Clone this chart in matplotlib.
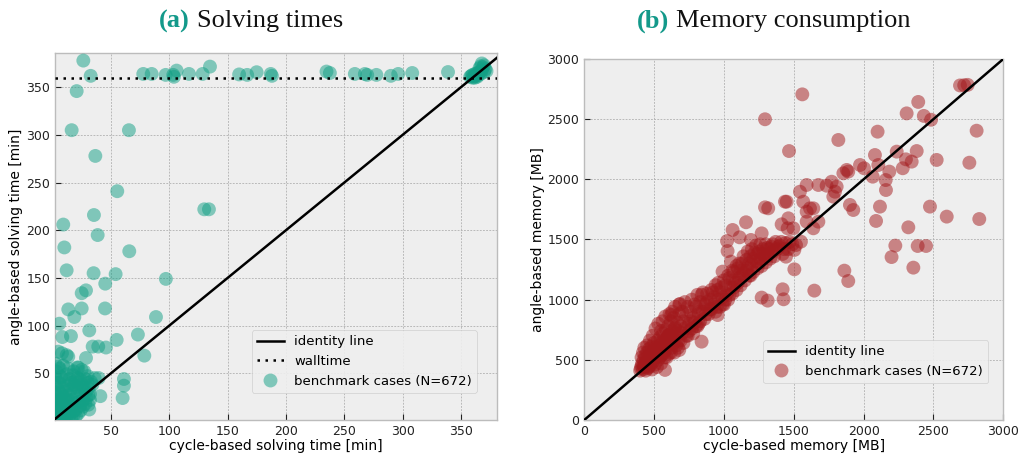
import numpy as np
import matplotlib
matplotlib.use("Agg")
import matplotlib.pyplot as plt
from matplotlib.offsetbox import TextArea, HPacker, AnchoredOffsetbox
from matplotlib.lines import Line2D

plt.style.use("bmh")
plt.rcParams["font.family"] = ["DejaVu Sans"]

# ---------------- data: solving times [min] (cycle-based, angle-based) ----------------
WALLTIME = 360

solving_spread = [
    (26.3, 378), (32.6, 362), (20.6, 346), (16.3, 305), (65.4, 305), (36.6, 278),
    (55.4, 241), (35.4, 216), (9.1, 206), (38.6, 195), (10, 182), (65.7, 178),
    (12, 158), (35.1, 155), (54, 154), (97.1, 149), (45.1, 144), (28.6, 137),
    (24.9, 134), (13.4, 117), (24.9, 118), (44.9, 118), (18.6, 109), (88.6, 109),
    (5.7, 102), (31.4, 95), (8.3, 88), (15.7, 89), (73.1, 90.6), (54.9, 85),
    (34.3, 78), (39.1, 78), (45.7, 77), (78.6, 68.5), (8, 71), (12, 69),
    (13.4, 67.4), (4.8, 72.7), (28.6, 66), (61.1, 44), (61.1, 37), (39.4, 45),
    (40.9, 26), (60, 24), (32, 22), (31.4, 12), (30.6, 17), (30.5, 27),
    (17.6, 9.7), (4.8, 57), (13.4, 55), (22, 56), (24.8, 53.5), (130, 222),
    (134, 222),
]

solving_walltime = [
    (77.7, 364), (84.9, 364), (96.9, 363), (103.4, 363), (106.3, 367.5), (104, 361),
    (116.9, 364), (128.6, 364), (134.9, 371.7), (159.9, 363.5), (166.8, 363),
    (174.9, 365.8), (187, 364), (188, 362), (234.8, 366.5), (237.7, 365),
    (259.1, 364), (267.7, 364), (269.7, 363), (277.6, 363), (290, 362),
    (296.3, 364), (308.3, 365), (339, 366),
    (358, 361), (359, 362), (360, 363), (361, 361), (362, 364), (363, 362),
    (364, 365), (365, 363), (366, 366), (367, 364), (368, 368), (369, 371),
    (370, 373), (368, 375), (366, 370), (371, 369), (372, 367), (360, 360),
    (362, 360), (364, 361), (367, 372), (370, 366),
]

solving_dense = [
    (1.5, 2), (2, 5), (2.5, 9), (3, 3), (3, 14), (3.5, 20), (4, 7), (4, 26),
    (4.5, 33), (5, 4), (5, 11), (5, 17), (5.5, 40), (6, 2), (6, 23), (6.5, 29),
    (7, 6), (7, 13), (7.5, 46), (8, 9), (8, 19), (8.5, 35), (9, 3), (9, 25),
    (9.5, 15), (10, 42), (10.5, 8), (11, 31), (11.5, 21), (12, 5), (12, 49),
    (12.5, 12), (13, 37), (13.5, 27), (14, 17), (14.5, 44), (15, 10), (15.5, 33),
    (16, 40), (16.5, 22), (17, 14), (17.5, 48), (18, 30), (18.5, 38), (19, 19),
    (19.5, 42), (20, 12), (20.5, 35), (21, 26), (21.5, 45), (22, 40), (22.5, 20),
    (23, 33), (23.5, 16), (24, 43), (25, 28), (25.5, 38), (26, 22), (27, 35),
    (28, 44), (28.5, 30), (29, 24), (30, 40), (31, 34), (32, 28), (33, 41),
    (2, 30), (2, 46), (3, 52), (1.5, 38), (2.5, 60), (6, 55), (9, 58), (1.5, 12),
    (2, 18), (4, 1.5), (7, 2), (10, 2.5), (14, 4), (18, 6), (22, 8), (26, 15),
    (16, 3), (20, 5), (24, 11), (28, 18), (11, 15), (8, 28), (13, 22), (4, 40),
    (6, 47), (18, 52), (21, 56), (27, 52), (30, 47), (34, 38), (36, 45),
]

# ---------------- data: memory consumption [MB] (cycle-based, angle-based) ----------------
memory_band = [
    (400, 410), (405, 430), (410, 450), (415, 470), (420, 420), (425, 500),
    (430, 440), (435, 530), (440, 410), (445, 470), (450, 560), (455, 430),
    (460, 500), (465, 590), (470, 450), (475, 530), (480, 610), (485, 420),
    (490, 480), (495, 560), (500, 640), (505, 460), (510, 520), (515, 590),
    (520, 440), (525, 660), (530, 500), (535, 560), (540, 620), (545, 690),
    (550, 470), (555, 540), (560, 600), (565, 720), (570, 650), (575, 520),
    (580, 580), (585, 750), (590, 680), (595, 620), (600, 780), (605, 550),
    (610, 710), (615, 650), (620, 820), (625, 600), (630, 740), (635, 680),
    (640, 850), (645, 560), (650, 770), (655, 700), (660, 620), (665, 810),
    (670, 740), (675, 660), (680, 880), (690, 780), (700, 720), (710, 820),
    (720, 760), (730, 870), (740, 700), (750, 800), (760, 900), (770, 760),
    (780, 850), (790, 810), (800, 940), (810, 780), (820, 880), (830, 820),
    (840, 1040), (850, 900), (860, 840), (870, 960), (880, 1050), (890, 880),
    (900, 1000), (910, 920), (920, 1060), (930, 960), (940, 900), (950, 1080),
    (960, 1000), (970, 940), (980, 1100), (990, 1020), (1000, 960), (1010, 1120),
    (1020, 1050), (1030, 1000), (1040, 1180), (1050, 1100), (1060, 1050),
    (1070, 1230), (1080, 1140), (1090, 1080), (1100, 1260), (1110, 1180),
    (1120, 1120), (1130, 1300), (1140, 1220), (1150, 1160), (1160, 1330),
    (1170, 1260), (1180, 1200), (1190, 1360), (1200, 1290), (1210, 1230),
    (1220, 1390), (1230, 1320), (1240, 1260), (1250, 1400), (1260, 1340),
    (1270, 1280), (1280, 1420), (1290, 1360), (1300, 1310), (1310, 1430),
    (1320, 1380), (1330, 1340), (1340, 1440), (1350, 1400), (1360, 1360),
    (1380, 1420), (1400, 1450), (1420, 1380), (1440, 1470), (1460, 1420),
    # wider part of the band
    (410, 520), (420, 560), (430, 600), (440, 480), (450, 620), (460, 440),
    (470, 660), (480, 500), (490, 700), (500, 540), (510, 760), (520, 580),
    (530, 800), (540, 520), (550, 740), (560, 820), (570, 560), (580, 860),
    (590, 520), (600, 700), (610, 880), (620, 560), (630, 900), (640, 640),
    (650, 940), (660, 720), (670, 600), (680, 960), (690, 660), (700, 900),
    (710, 640), (720, 980), (730, 700), (740, 940), (750, 740), (760, 820),
    (770, 1000), (780, 720), (790, 960), (800, 780), (810, 1040), (820, 800),
    (830, 980), (850, 1060), (860, 960), (870, 880), (880, 980), (900, 920),
    (910, 1080), (930, 1020), (940, 1120), (950, 940), (960, 1140), (970, 1060),
    (990, 960), (1000, 1160), (1010, 1000), (1030, 1200), (1040, 1040),
    (1060, 1160), (1070, 1100), (1090, 1280), (1100, 1140), (1110, 1300),
    (1130, 1200), (1140, 1360), (1160, 1240), (1170, 1400), (1180, 1300),
    (1200, 1420), (1210, 1340), (1230, 1450), (1240, 1380), (1260, 1460),
    (1280, 1380), (1300, 1460), (1320, 1420), (1350, 1460), (1370, 1480),
    (1390, 1440), (1410, 1480), (1430, 1420), (1470, 1480), (1490, 1460),
    (1060, 1240), (1120, 1240), (1190, 1200), (1250, 1300), (1310, 1360),
    (425, 450), (445, 520), (465, 480), (485, 540), (505, 600), (525, 540),
    (545, 600), (565, 660), (585, 640), (605, 700), (625, 680), (645, 760),
]

memory_spread = [
    (1561, 2706), (1294, 2499), (1466, 2235), (1819, 2327), (2100, 2396),
    (2391, 2643), (2308, 2548), (2431, 2527), (2483, 2495), (2809, 2404),
    (2690, 2780), (2720, 2782), (2745, 2785), (2081, 2202), (2105, 2119),
    (2237, 2230), (2380, 2235), (2303, 2166), (2344, 2147), (2280, 2092),
    (2184, 2064), (2158, 1994), (2160, 1911), (2065, 2022), (2523, 2161),
    (2757, 2138), (1974, 2119), (2003, 2092), (1879, 2078), (1890, 2064),
    (1855, 2050), (1771, 1980), (1735, 1947), (1676, 1953), (1807, 1939),
    (1795, 1897), (1783, 1856), (1592, 1953), (1544, 1897), (1568, 1814),
    (1616, 1759), (1592, 1731), (1437, 1814), (1449, 1814), (1902, 1787),
    (1926, 1745), (2117, 1773), (2475, 1773), (2595, 1690), (2828, 1670),
    (2089, 1654), (2320, 1601), (1294, 1767), (1317, 1759), (1158, 1643),
    (1413, 1626), (1461, 1676), (1456, 1593), (1497, 1593), (1592, 1648),
    (1640, 1759), (1640, 1593), (1676, 1648), (2227, 1449), (2387, 1446),
    (2447, 1446), (2200, 1354), (2356, 1266), (1862, 1241), (1890, 1155),
    (1647, 1075), (1504, 1252), (1420, 1086), (1427, 1003), (1270, 1017),
    (1313, 992), (1504, 1413), (1516, 1454), (1551, 1482), (1444, 1357),
    (1022, 1487), (1026, 1404), (1112, 1518), (1062, 1579), (1270, 1551),
    (1193, 1496), (990, 1233), (1050, 1316), (685, 964), (623, 872),
    (840, 651), (578, 416), (680, 582), (819, 900), (955, 872),
]


def xy(*groups):
    pts = np.array([p for g in groups for p in g], dtype=float)
    return pts[:, 0], pts[:, 1]


TEAL = "#12a085"
RED = "#a3191c"
TITLE_ACCENT = "#13998a"
DOTTED = (0, (1, 2.2))

fig = plt.figure(figsize=(10.22, 4.59), dpi=100)
ax1 = fig.add_axes([0.0538, 0.085, 0.4325, 0.7996])
ax2 = fig.add_axes([0.5717, 0.085, 0.410, 0.7865])

for ax in (ax1, ax2):
    ax.set_facecolor("#eeeeee")
    ax.grid(True, color="#b0b0b0", linestyle=(0, (2.2, 1.6)), linewidth=0.6)
    ax.set_axisbelow(True)
    for sp in ax.spines.values():
        sp.set_color("#bcbcbc")
        sp.set_linewidth(1.0)
    ax.tick_params(labelsize=9, colors="#222222", direction="in", length=4)

# (a) solving times
tx, ty = xy(solving_spread, solving_walltime, solving_dense)
ax1.scatter(tx, ty, s=100, color=TEAL, alpha=0.5, edgecolors="none", zorder=3)
ax1.axline((0, 0), slope=1, color="black", lw=1.8, zorder=4)
ax1.axhline(WALLTIME, color="black", lw=1.8, ls=DOTTED, zorder=4)
ax1.set_xlim(2, 381)
ax1.set_ylim(1, 386)
ax1.set_xticks([50, 100, 150, 200, 250, 300, 350])
ax1.set_yticks([50, 100, 150, 200, 250, 300, 350])
ax1.set_xlabel("cycle-based solving time [min]", fontsize=10, labelpad=1)
ax1.set_ylabel("angle-based solving time [min]", fontsize=10, labelpad=2)
handles1 = [
    Line2D([], [], color="black", lw=1.8),
    Line2D([], [], color="black", lw=1.8, ls=DOTTED),
    Line2D([], [], marker="o", ls="none", markersize=10, color=TEAL, alpha=0.5,
           markeredgecolor="none"),
]
ax1.legend(handles1, ["identity line", "walltime", "benchmark cases (N=672)"],
           loc="lower right", bbox_to_anchor=(0.955, 0.074), borderaxespad=0,
           fontsize=9.5, frameon=True, facecolor="#eeeeee", edgecolor="#cccccc",
           framealpha=0.9)

# (b) memory consumption
mx, my = xy(memory_band, memory_spread)
ax2.scatter(mx, my, s=100, color=RED, alpha=0.5, edgecolors="none", zorder=3)
ax2.axline((0, 0), slope=1, color="black", lw=1.8, zorder=4)
ax2.set_xlim(0, 3000)
ax2.set_ylim(0, 3000)
ax2.set_xticks(np.arange(0, 3001, 500))
ax2.set_yticks(np.arange(0, 3001, 500))
ax2.set_xlabel("cycle-based memory [MB]", fontsize=10, labelpad=1)
ax2.set_ylabel("angle-based memory [MB]", fontsize=10, labelpad=2)
handles2 = [
    Line2D([], [], color="black", lw=1.8),
    Line2D([], [], marker="o", ls="none", markersize=10, color=RED, alpha=0.5,
           markeredgecolor="none"),
]
ax2.legend(handles2, ["identity line", "benchmark cases (N=672)"],
           loc="lower right", bbox_to_anchor=(0.964, 0.102), borderaxespad=0,
           fontsize=9.5, frameon=True, facecolor="#eeeeee", edgecolor="#cccccc",
           framealpha=0.9)


def panel_title(tag, text, xc, yc):
    serif = "Liberation Serif"
    a = TextArea(tag, textprops=dict(color=TITLE_ACCENT, fontweight="bold",
                                     fontsize=19, family=serif))
    b = TextArea(text, textprops=dict(color="#111111", fontsize=19, family=serif))
    box = HPacker(children=[a, b], align="baseline", pad=0, sep=5)
    anchored = AnchoredOffsetbox(loc="center", child=box, frameon=False, pad=0,
                                 borderpad=0, bbox_to_anchor=(xc, yc),
                                 bbox_transform=fig.transFigure)
    fig.add_artist(anchored)


panel_title("(a)", "Solving times", 251 / 1022, 1 - 21 / 459)
panel_title("(b)", "Memory consumption", 774 / 1022, 1 - 21 / 459)

fig.savefig("out.png", dpi=100)
